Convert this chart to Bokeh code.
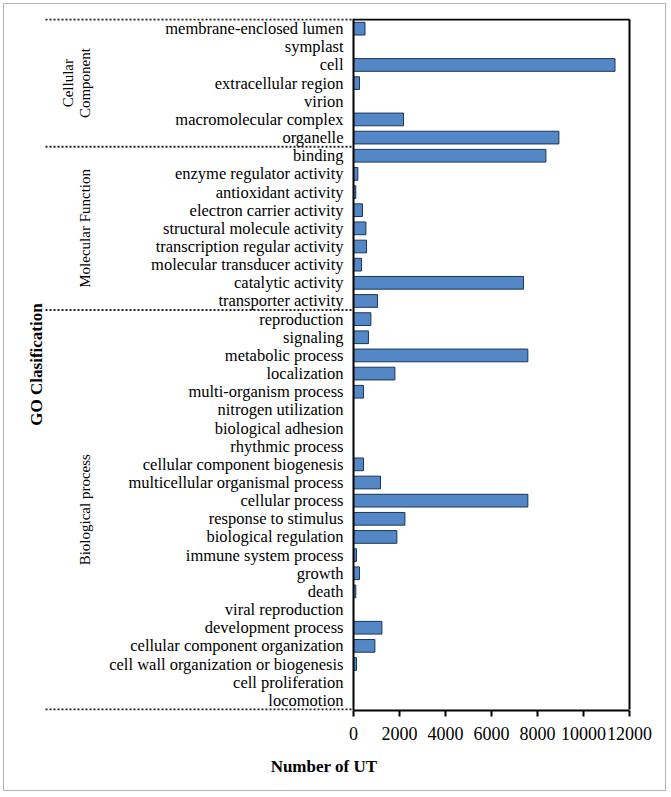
import math
from bokeh.plotting import figure
from bokeh.models import FactorRange, Range1d, LinearAxis, CategoricalAxis, FixedTicker
from bokeh.core.properties import value
from bokeh.embed import file_html
from bokeh.resources import INLINE

# ---------------- data ----------------
cc_terms = ["membrane-enclosed lumen", "symplast", "cell", "extracellular region",
            "virion", "macromolecular complex", "organelle"]
cc_counts = [500, 0, 11370, 260, 0, 2175, 8930]

mf_terms = ["binding", "enzyme regulator activity", "antioxidant activity",
            "electron carrier activity", "structural molecule activity",
            "transcription regular activity", "molecular transducer activity",
            "catalytic activity", "transporter activity"]
mf_counts = [8365, 190, 100, 390, 540, 565, 350, 7390, 1045]

bp_terms = ["reproduction", "signaling", "metabolic process", "localization",
            "multi-organism process", "nitrogen utilization", "biological adhesion",
            "rhythmic process", "cellular component biogenesis",
            "multicellular organismal process", "cellular process",
            "response to stimulus", "biological regulation", "immune system process",
            "growth", "death", "viral reproduction", "development process",
            "cellular component organization", "cell wall organization or biogenesis",
            "cell proliferation", "locomotion"]
bp_counts = [755, 650, 7580, 1800, 435, 0, 0, 0, 435, 1175, 7580, 2235, 1885,
             130, 260, 100, 0, 1235, 930, 130, 0, 0]

group_labels = ["Cellular\nComponent", "Molecular Function", "Biological process"]
x_ticks = [0, 2000, 4000, 6000, 8000, 10000, 12000]
x_title = "Number of UT"
y_title = "GO Clasification"

# ---------------- layout / style ----------------
FONT = "Liberation Serif"
W, H = 663, 788
OX, OY = 4, 4                 # screen position of the canvas origin (3px margin + 1px border)
AXIS0_PX = 353                # screen x of value 0
AXISMAX_PX = 629              # screen x of the last tick
FRAME_L_PX, FRAME_R_PX = 16, 631
FRAME_T_PX, FRAME_B_PX = 18, 710
DOT_START_PX = 45
GROUP_PX = [76, 84, 84]
GO_PX = 36

groups = [(cc_terms, cc_counts), (mf_terms, mf_counts), (bp_terms, bp_counts)]
terms_top_down = cc_terms + mf_terms + bp_terms
counts_top_down = cc_counts + mf_counts + bp_counts
factors = list(reversed(terms_top_down))      # bottom to top

x_max = x_ticks[-1]
upp = (x_max - x_ticks[0]) / (AXISMAX_PX - AXIS0_PX)   # data units per pixel


def xd(px):
    return (px - AXIS0_PX) * upp


p = figure(
    width=W, height=H,
    y_range=FactorRange(factors=factors, range_padding=0.06, range_padding_units="absolute"),
    x_range=Range1d(xd(FRAME_L_PX), xd(FRAME_R_PX)),
    x_axis_location=None, y_axis_location=None,
    toolbar_location=None, output_backend="svg",
    min_border_left=FRAME_L_PX - OX, min_border_right=W - (FRAME_R_PX - OX),
    min_border_top=FRAME_T_PX - OY, min_border_bottom=H - (FRAME_B_PX - OY),
    outline_line_color=None, background_fill_color="white", border_fill_color="white",
    styles={"border": "1px solid #b4b4b4", "margin": "3px"},
)
p.xgrid.visible = False
p.ygrid.visible = False

# bars
p.hbar(y=terms_top_down, right=counts_top_down, left=0, height=0.7,
       fill_color="#5387c6", line_color="#1c3556", line_width=1)

# category axis drawn at value 0 (left side of the box)
yax = CategoricalAxis(
    fixed_location=0,
    axis_line_color="black", axis_line_width=2,
    major_tick_in=0, major_tick_out=0,
    major_label_standoff=10,
    major_label_text_font=FONT, major_label_text_font_size="16.5px",
    major_label_text_color="black",
)
p.add_layout(yax, "left")

# value axis
xax = LinearAxis(
    ticker=FixedTicker(ticks=x_ticks), bounds=(x_ticks[0], x_max),
    axis_line_color="black", axis_line_width=2,
    major_tick_in=0, major_tick_out=6, major_tick_line_width=2, major_tick_line_color="black",
    minor_tick_in=0, minor_tick_out=0,
    major_label_standoff=10,
    major_label_text_font=FONT, major_label_text_font_size="18px",
    major_label_text_color="black",
    axis_label=x_title, axis_label_text_font=FONT, axis_label_text_font_size="17px",
    axis_label_text_font_style="bold", axis_label_text_color="black",
    axis_label_standoff=14,
)
p.add_layout(xax, "below")

# box: top and right sides
top = (terms_top_down[0], 0.5)
bottom = (terms_top_down[-1], -0.5)
p.segment(x0=[x_ticks[0]], x1=[x_max], y0=[top], y1=[top], line_color="black", line_width=2)
p.segment(x0=[x_max], x1=[x_max], y0=[bottom], y1=[top], line_color="black", line_width=2)

# dotted group separators
sep_y = [top] + [(g[0][-1], -0.5) for g in groups]
p.segment(x0=[xd(DOT_START_PX)] * len(sep_y), x1=[x_ticks[0]] * len(sep_y),
          y0=sep_y, y1=sep_y, line_color="#222222", line_width=2, line_dash="2 2")

# group labels (rotated)
gy = []
for terms, _ in groups:
    n = len(terms)
    gy.append((terms[n // 2], 0.0) if n % 2 else (terms[n // 2], 0.5))
p.text(x=[xd(px) for px in GROUP_PX], y=gy, text=group_labels, angle=math.pi / 2,
       text_align="center", text_baseline="middle", text_font=value(FONT),
       text_font_size="15px", text_color="black", text_line_height=1.1)

# overall y title
n = len(factors)
mid = (factors[n // 2], -0.5) if n % 2 == 0 else (factors[n // 2], 0.0)
p.text(x=[xd(GO_PX)], y=[mid], text=[y_title], angle=math.pi / 2,
       text_align="center", text_baseline="middle", text_font=value(FONT),
       text_font_size="17px", text_font_style="bold", text_color="black")

open("out.html", "w").write(file_html(p, INLINE))
